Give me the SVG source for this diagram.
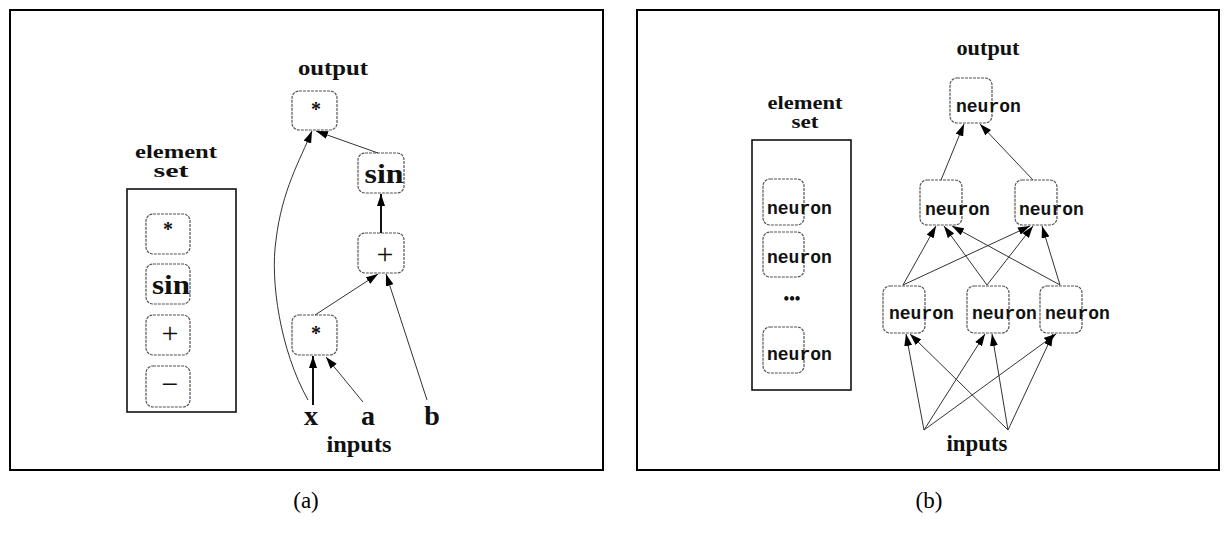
<svg xmlns="http://www.w3.org/2000/svg" width="1227" height="538" viewBox="0 0 1227 538">
<style>
.panel{fill:none;stroke:#000;stroke-width:2}
.ebox{fill:none;stroke:#111;stroke-width:1.6}
.node{fill:#fff;stroke:#555;stroke-width:1.2;stroke-dasharray:3 1}
.lbl{font-family:"Liberation Serif",serif;font-weight:bold;fill:#111;text-anchor:middle}
.op{font-family:"Liberation Serif",serif;font-weight:normal;fill:#111;text-anchor:middle}
.cap{font-family:"Liberation Serif",serif;font-size:23px;fill:#000;text-anchor:middle}
.neu{font-family:"Liberation Mono","DejaVu Sans Mono",monospace;font-weight:bold;font-size:18px;fill:#111}
.e{fill:none;stroke:#333;stroke-width:1}
.et{fill:none;stroke:#111;stroke-width:2}
</style>
<defs>
<marker id="ah" viewBox="0 0 12 8" refX="12" refY="4" markerWidth="12" markerHeight="8" orient="auto" markerUnits="userSpaceOnUse"><path d="M0,0 L12,4 L0,8 z" fill="#000"/></marker>
</defs>
<rect width="1227" height="538" fill="#fff"/>

<!-- Panel (a) -->
<g id="panel-a">
<rect class="panel" x="10" y="10" width="593" height="460"/>
<text class="cap" x="306" y="508">(a)</text>
</g>
<g id="a-elementset">
<text class="lbl" x="176" y="158" font-size="18" textLength="82" lengthAdjust="spacingAndGlyphs">element</text>
<text class="lbl" x="171" y="177" font-size="18" textLength="35" lengthAdjust="spacingAndGlyphs">set</text>
<rect class="ebox" x="127" y="189" width="109" height="223"/>
<rect class="node" x="146" y="214" width="44" height="40" rx="7"/>
<text class="lbl" x="168" y="236" font-size="20">*</text>
<rect class="node" x="146" y="264" width="44" height="40" rx="7"/>
<text class="lbl" x="171" y="294" font-size="27" textLength="38" lengthAdjust="spacingAndGlyphs">sin</text>
<rect class="node" x="146" y="315" width="44" height="40" rx="7"/>
<text class="op" x="170" y="343" font-size="30">+</text>
<rect class="node" x="146" y="366" width="44" height="41" rx="7"/>
<text class="op" x="170" y="394" font-size="30">−</text>
</g>
<g id="a-output"><text class="lbl" x="333" y="75" font-size="22" textLength="70" lengthAdjust="spacingAndGlyphs">output</text></g>
<g id="a-mul-top"><rect class="node" x="292" y="91" width="45" height="39" rx="7"/><text class="lbl" x="316" y="116" font-size="20">*</text></g>
<g id="a-sin"><rect class="node" x="358" y="153" width="46" height="40" rx="7"/><text class="lbl" x="384" y="183" font-size="27" textLength="39" lengthAdjust="spacingAndGlyphs">sin</text></g>
<g id="a-plus"><rect class="node" x="358" y="233" width="46" height="40" rx="7"/><text class="op" x="385" y="264" font-size="30">+</text></g>
<g id="a-mul-low"><rect class="node" x="292" y="315" width="45" height="40" rx="7"/><text class="lbl" x="316" y="340" font-size="20">*</text></g>
<g id="a-inputs">
<text class="lbl" x="311" y="425" font-size="28">x</text>
<text class="lbl" x="368" y="425" font-size="28">a</text>
<text class="lbl" x="432" y="425" font-size="28">b</text>
<text class="lbl" x="359" y="452" font-size="23" textLength="65" lengthAdjust="spacingAndGlyphs">inputs</text>
</g>
<g id="a-connectors">
<path class="et" d="M313,405 L313,356" marker-end="url(#ah)"/>
<path class="e" d="M363,402 L326,357" marker-end="url(#ah)"/>
<path class="e" d="M308,400 C280,350 270,280 276,240 C282,190 300,160 312,131" marker-end="url(#ah)"/>
<path class="e" d="M315,315 L378,274" marker-end="url(#ah)"/>
<path class="e" d="M427,400 L386,274" marker-end="url(#ah)"/>
<path class="et" d="M381,233 L381,194" marker-end="url(#ah)"/>
<path class="e" d="M378,153 L316,131" marker-end="url(#ah)"/>
</g>

<!-- Panel (b) -->
<g id="panel-b">
<rect class="panel" x="637" y="10" width="582" height="460"/>
<text class="cap" x="929" y="508">(b)</text>
</g>
<g id="b-elementset">
<text class="lbl" x="805" y="109" font-size="18" textLength="75" lengthAdjust="spacingAndGlyphs">element</text>
<text class="lbl" x="805" y="128" font-size="18" textLength="27" lengthAdjust="spacingAndGlyphs">set</text>
<rect class="ebox" x="752" y="140" width="99" height="250"/>
<rect class="node" x="763" y="179" width="41" height="46" rx="7"/>
<text class="neu" x="767" y="214">neuron</text>
<rect class="node" x="763" y="232" width="41" height="45" rx="7"/>
<text class="neu" x="767" y="263">neuron</text>
<text class="lbl" x="792" y="304" font-size="16">•••</text>
<rect class="node" x="763" y="327" width="41" height="46" rx="7"/>
<text class="neu" x="767" y="360">neuron</text>
</g>
<g id="b-output"><text class="lbl" x="988" y="55" font-size="22" textLength="63" lengthAdjust="spacingAndGlyphs">output</text></g>
<g id="b-top"><rect class="node" x="950" y="78" width="42" height="45" rx="7"/><text class="neu" x="956" y="112">neuron</text></g>
<g id="b-mid1"><rect class="node" x="920" y="180" width="42" height="45" rx="7"/><text class="neu" x="925" y="215">neuron</text></g>
<g id="b-mid2"><rect class="node" x="1015" y="180" width="42" height="45" rx="7"/><text class="neu" x="1019" y="215">neuron</text></g>
<g id="b-low1"><rect class="node" x="883" y="286" width="42" height="47" rx="7"/><text class="neu" x="889" y="319">neuron</text></g>
<g id="b-low2"><rect class="node" x="967" y="286" width="42" height="47" rx="7"/><text class="neu" x="972" y="319">neuron</text></g>
<g id="b-low3"><rect class="node" x="1040" y="286" width="42" height="47" rx="7"/><text class="neu" x="1045" y="319">neuron</text></g>
<g id="b-inputs"><text class="lbl" x="977" y="451" font-size="23" textLength="61" lengthAdjust="spacingAndGlyphs">inputs</text></g>
<g id="b-connectors">
<path class="e" d="M941,180 L964,124" marker-end="url(#ah)"/>
<path class="e" d="M1033,180 L980,124" marker-end="url(#ah)"/>
<path class="e" d="M903,285 L936,226" marker-end="url(#ah)"/>
<path class="e" d="M903,285 L1030,226" marker-end="url(#ah)"/>
<path class="e" d="M987,285 L944,226" marker-end="url(#ah)"/>
<path class="e" d="M987,285 L1033,226" marker-end="url(#ah)"/>
<path class="e" d="M1060,285 L952,226" marker-end="url(#ah)"/>
<path class="e" d="M1060,285 L1042,226" marker-end="url(#ah)"/>
<path class="e" d="M924,430 L906,334" marker-end="url(#ah)"/>
<path class="e" d="M924,430 L985,334" marker-end="url(#ah)"/>
<path class="e" d="M924,430 L1056,334" marker-end="url(#ah)"/>
<path class="e" d="M1008,430 L910,334" marker-end="url(#ah)"/>
<path class="e" d="M1008,430 L992,334" marker-end="url(#ah)"/>
<path class="e" d="M1008,430 L1053,334" marker-end="url(#ah)"/>
</g>
</svg>
